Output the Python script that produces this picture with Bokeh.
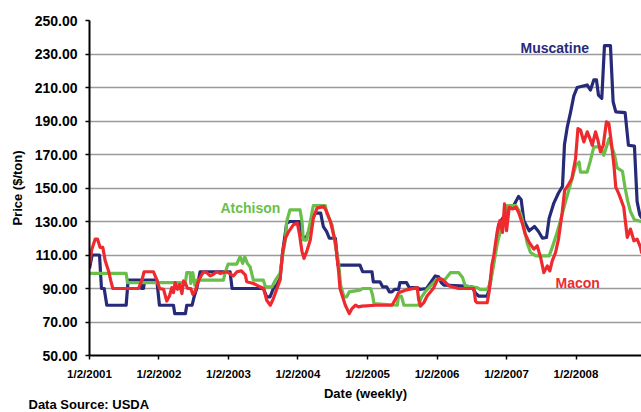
import numpy as np
import pandas as pd
from bokeh.plotting import figure
from bokeh.models import Range1d, FixedTicker, NumeralTickFormatter, Label, Title, ColumnDataSource
from bokeh.embed import file_html
from bokeh.resources import INLINE

# ---------------- data ----------------
start_date = "2001-01-02"   # weekly series start

tick_labels = ["1/2/2001", "1/2/2002", "1/2/2003", "1/2/2004",
               "1/2/2005", "1/2/2006", "1/2/2007", "1/2/2008"]
y_ticks = [50, 70, 90, 110, 130, 150, 170, 190, 210, 230, 250]

# week index (weeks since 1/2/2001) and price ($/ton)
muscatine_week = [0, 2, 7.5, 9, 11, 13, 27.5, 29, 38, 39, 40.5, 41.5, 50.5, 52.5, 63, 64, 72, 73, 77, 78.5,
                  80.5, 83, 105.5, 107, 130.5, 133, 135.5, 138, 140.5, 143, 145, 148, 150.5, 158, 159.5, 162,
                  164.5, 167, 169.5, 173.5, 175.5, 178, 180, 184.5, 186.5, 203, 205, 212, 213, 218, 220, 223,
                  225, 227, 229, 232, 233, 238, 240, 246, 248, 253, 256, 259.5, 262, 264, 266, 282, 287, 290,
                  292, 298.5, 300, 302, 305, 307, 311, 315, 318, 320, 322, 324, 326, 330, 334, 337, 340, 343,
                  345, 348.5, 352, 355, 356.5, 358.5, 361, 363.5, 366, 373.5, 376, 378.5, 380.5, 382, 384.5,
                  386.5, 391, 393, 395, 402, 404.5, 409, 411, 413, 414.5]
muscatine_price = [102, 110, 110, 90, 90, 80, 80, 95, 95, 90, 90, 95, 95, 80, 80, 75, 75, 80, 80, 85,
                   90, 100, 100, 90, 90, 85, 85, 90, 92, 96, 112, 129, 130, 130, 122, 119,
                   124, 131, 135, 135, 127, 124, 120, 120, 104, 104, 100, 100, 94, 94, 91, 91,
                   88, 88, 89.5, 89.5, 93.5, 93.5, 90.5, 90.5, 89.5, 90, 93.5, 97.5, 97, 93.5, 92, 91.5, 91, 87,
                   85.5, 85.5, 90, 100, 114, 128, 133, 138, 139, 142, 145, 143, 130.5, 124.5, 127, 124, 120, 120.5,
                   132, 141, 147, 151, 176, 186, 195, 205, 210, 211.5, 208.5, 214.5, 214.5, 205.5, 203.5,
                   235, 235, 201.5, 195.5, 195, 175.5, 175, 142, 134, 132]

atchison_week = [0, 27.5, 28.5, 72, 73, 75.5, 76, 77.5, 79, 80.5, 100.5, 102, 104, 110.5, 113, 115, 116.5,
                 118.5, 120.5, 123, 130.5, 132, 137, 139.5, 143, 145, 147, 148, 150.5, 158, 159.5, 160.5,
                 163, 165, 168, 177, 178, 182, 184.5, 187, 188.5, 191, 193, 195, 203, 205, 211, 212.5, 213.5,
                 231, 232, 234, 236, 247, 249, 251, 253.5, 257, 261, 267, 271, 277, 280, 282, 291, 293, 298.5,
                 301, 303.5, 306, 307, 310, 311, 313.5, 320, 323.5, 326, 328.5, 331, 335, 345, 347.5, 350,
                 353.5, 357.5, 362, 365, 367.5, 368.5, 373.5, 376, 378.5, 383.5, 386, 390, 391.5, 394, 396,
                 400, 402, 404, 406, 409, 414.5]
atchison_price = [99, 99, 93.5, 93.5, 99.5, 99.5, 93, 99.5, 92, 95, 95, 100, 104.5, 104.5, 109, 105, 109,
                  105, 103, 95, 95, 91, 91, 95, 99, 110, 119, 130, 137, 137, 130, 119,
                  119, 127, 139.5, 139.5, 135, 128, 116, 105, 92, 85, 85, 88, 89, 90, 90, 86, 81,
                  80, 85.5, 85.5, 80, 80, 84.5, 87, 89.5, 92.5, 95.5, 95.5, 99.5, 99.5, 96.5, 91.5, 90.5, 89.5, 89.5,
                  93.5, 105, 116.5, 120, 128.5, 133, 139.5, 139.5, 135, 127, 117, 111.5, 109.5, 109.5, 115, 121,
                  130.5, 142.5, 155, 163.5, 165.5, 159.5, 159.5, 166.5, 174.5, 174.5, 169.5, 179.5, 175.5, 170, 162,
                  160, 150, 142, 136, 131, 130]

macon_week = [0, 1.75, 4.3, 6, 8, 10, 11.8, 14.3, 16, 17.5, 36.8, 39.3, 41, 48, 50.6, 52.6, 55.6, 58, 60,
              61.8, 63, 64.3, 66, 67.6, 69.4, 70.6, 72, 73.6, 76, 77.6, 79.4, 81, 83, 85.6, 88, 90.6, 93,
              95.6, 98, 103, 107, 108, 110.7, 114, 117, 118, 123, 128, 130.7, 133, 135.7, 138, 140.7, 143,
              145, 147, 149.5, 153, 156, 157.7, 159.5, 161, 163, 165.7, 168, 170.8, 175.8, 178, 180.8, 184.5,
              187, 188, 190.8, 192, 195, 197, 199.6, 202, 204.6, 214.6, 227, 229.6, 232, 237, 246, 247,
              248.4, 250.9, 253.4, 256, 258.4, 261, 263, 266, 270, 277, 288.5, 289.7, 291, 298.5, 300, 302,
              303.5, 306, 308, 310, 311.5, 313, 315, 317.6, 320, 322, 325, 327, 330, 333.5, 336, 338.6, 341,
              343.6, 345.5, 347.3, 349.8, 352, 354.8, 356.6, 359.8, 362, 364.8, 366.6, 368.6, 371, 373.6,
              375.6, 377.3, 379.8, 381.6, 383.5, 385.6, 388, 389.8, 391.6, 393.6, 395, 397.3, 401, 403.6,
              406, 408.6, 411, 413.6, 414.5]
macon_price = [104.5, 113.5, 119.5, 119.5, 114.5, 114.5, 106.5, 100.5, 94.5, 90, 90, 95, 100, 100, 95, 90, 89.5, 82.5, 85.5,
               90.5, 87.5, 93.5, 89.5, 92.5, 87, 94.5, 93, 90, 90, 86.5, 88.5, 93, 96.5, 100, 99.5, 97.5, 98.5,
               100, 99, 100, 98, 97.5, 100, 100.5, 98, 94, 93, 91, 90, 83, 80, 84, 90, 95,
               112, 120, 124, 128, 129, 122, 112, 108, 112, 119, 132, 138, 139, 136, 130, 118,
               100, 90, 83, 80, 75, 78, 80, 79, 79.5, 80, 80, 83.5, 87.5, 89, 90.5, 83.5,
               79.5, 81.5, 85.5, 88, 90.5, 95, 96, 94.5, 91.5, 90, 90, 82.5, 81.5, 81.5, 88.5, 104,
               110, 124, 130.5, 123.5, 140.5, 124.5, 138.5, 137.5, 138.5, 135.5, 128.5, 122.5, 117.5, 113.5, 115.5, 108.5, 99.5,
               103.5, 100.5, 106.5, 111.5, 119.5, 135.5, 148.5, 152.5, 155.5, 167.5, 185.5, 184.5, 177.5, 183.5,
               179.5, 175.5, 183.5, 178.5, 171.5, 175.5, 189.5, 188.5, 177.5, 163.5, 150.5, 146.5, 138.5, 120.5,
               125.5, 118.5, 119.5, 114.5, 111]

# ---------------- helpers ----------------
t0 = pd.Timestamp(start_date)


def week_dates(weeks):
    return t0 + pd.to_timedelta(np.asarray(weeks, dtype=float) * 7, unit="D")


def to_ms(ts):
    return float((pd.Timestamp(ts) - pd.Timestamp("1970-01-01")) / pd.Timedelta(milliseconds=1))


tick_dates = pd.to_datetime(tick_labels, format="%m/%d/%Y")
tick_ms = [to_ms(d) for d in tick_dates]

NAVY = "#262a78"
GREEN = "#6abf4b"
RED = "#ee2a2e"
FONT = "Liberation Sans"

p = figure(width=641, height=412, x_axis_type="datetime",
           output_backend="svg", toolbar_location=None,
           x_range=Range1d(to_ms(t0), to_ms(t0 + pd.Timedelta(days=414.3 * 7))),
           y_range=Range1d(50, 250),
           min_border_left=89, min_border_right=0, min_border_top=20, min_border_bottom=57)
p.outline_line_color = None
p.background_fill_color = "white"
p.border_fill_color = "white"

for weeks, prices, col in [(muscatine_week, muscatine_price, NAVY),
                           (atchison_week, atchison_price, GREEN),
                           (macon_week, macon_price, RED)]:
    src = ColumnDataSource(dict(date=week_dates(weeks), price=prices))
    p.line("date", "price", source=src, line_color=col, line_width=3.2, line_join="round")

# grid
p.xgrid.grid_line_color = None
p.ygrid.grid_line_color = "#9a9a9a"
p.ygrid.grid_line_width = 1.5

# y axis
p.yaxis.ticker = FixedTicker(ticks=y_ticks)
p.yaxis.formatter = NumeralTickFormatter(format="0.00")
p.yaxis.axis_label = "Price ($/ton)"

# x axis
p.xaxis.ticker = FixedTicker(ticks=tick_ms)
p.xaxis.major_label_overrides = {ms: lab for ms, lab in zip(tick_ms, tick_labels)}
p.xaxis.axis_label = "Date (weekly)"

for ax in (p.xaxis, p.yaxis):
    ax.axis_line_color = "black"
    ax.axis_line_width = 2
    ax.major_tick_line_color = "black"
    ax.major_tick_line_width = 1.5
    ax.major_tick_out = 4
    ax.major_tick_in = 0
    ax.minor_tick_line_color = None
    ax.major_label_text_font = FONT
    ax.major_label_text_font_style = "bold"
    ax.major_label_text_color = "black"
    ax.axis_label_text_font = FONT
    ax.axis_label_text_font_style = "bold"
    ax.axis_label_text_font_size = "13px"
    ax.axis_label_text_color = "black"

p.yaxis.major_label_text_font_size = "14px"
p.yaxis.major_label_standoff = 8
p.yaxis.axis_label_standoff = 7
p.xaxis.major_label_text_font_size = "11.5px"
p.xaxis.major_label_standoff = 8
p.xaxis.axis_label_standoff = 3

# series labels
for txt, wk, val, col in [("Muscatine", 323.5, 233.8, NAVY),
                          ("Atchison", 98.3, 137.8, GREEN),
                          ("Macon", 349.8, 93.0, RED)]:
    p.add_layout(Label(x=to_ms(t0 + pd.Timedelta(days=wk * 7)), y=val, text=txt,
                       text_font=FONT, text_font_style="bold", text_font_size="14px",
                       text_color=col, text_align="left", text_baseline="middle"))

# source note below the x axis
p.add_layout(Title(text="Data Source: USDA", align="left", offset=-61, standoff=-15,
                   vertical_align="middle", text_font=FONT, text_font_style="bold",
                   text_font_size="13px", text_color="black"), "below")

open("out.html", "w").write(file_html(p, INLINE))
